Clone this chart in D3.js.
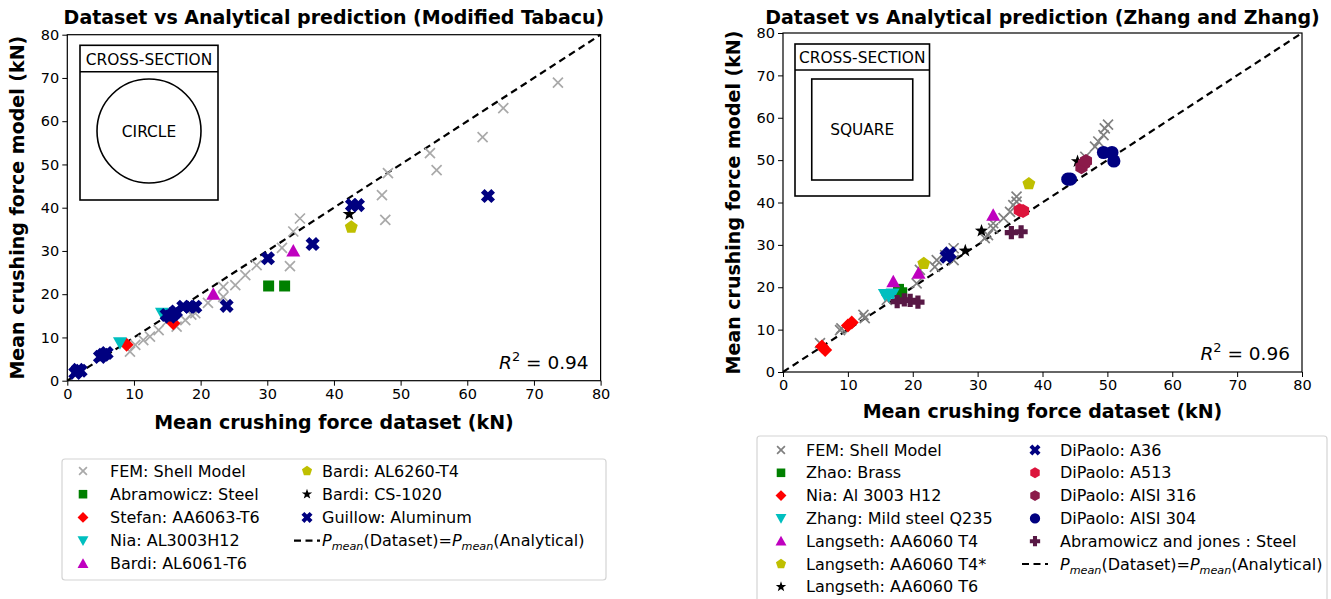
<!DOCTYPE html>
<html>
<head>
<meta charset="utf-8">
<script src="https://cdn.jsdelivr.net/npm/d3@7"></script>
<style>
  body { margin: 0; background: #fff; }
  svg { font-family: "DejaVu Sans", sans-serif; }
</style>
</head>
<body>
<svg id="chart" width="1331" height="599"></svg>
<script>
// ---- data (kN) ----
// Left panel: Modified Tabacu, circular sections
const tabacuFem = [[9.4,6.7],[10.2,8.3],[11.4,9.4],[12.4,10.2],[13.7,11.7],[15.0,13.8],[16.4,12.5],[17.7,14.0],
  [18.6,15.3],[19.2,15.6],[21.1,18.0],[23.4,19.4],[23.4,21.7],[25.2,22.1],[26.7,24.4],[28.4,26.7],[32.2,30.7],
  [33.4,26.5],[33.9,34.5],[34.9,37.5],[47.2,42.9],[47.7,37.2],[48.1,48.0],[54.4,52.6],[55.4,48.7],[62.3,56.3],
  [65.4,63.0],[73.6,68.9]];
const tabacuAbramowicz = [[30.2,21.9],[32.6,21.9]];
const tabacuStefan = [[8.9,8.3],[15.9,13.3]];
const tabacuNia = [[7.9,8.8],[14.2,15.6]];
const tabacuBardiT6 = [[21.9,20.0],[33.9,30.0]];
const tabacuBardiT4 = [[42.6,35.5]];
const tabacuBardiCS = [[42.3,38.5]];
const tabacuGuillow = [[1.2,1.8],[1.6,2.5],[2.0,2.3],[4.9,5.5],[5.4,6.0],[5.9,6.4],[14.9,15.2],[15.4,14.8],
  [15.9,15.4],[16.3,16.0],[17.4,17.1],[18.4,17.1],[19.2,17.1],[23.9,17.3],[30.1,28.3],[36.8,31.6],[42.7,40.6],
  [43.6,40.6],[63.1,42.7]];

// Right panel: Zhang and Zhang, square sections
const zhangFem = [[5.7,6.8],[8.8,9.9],[9.0,10.3],[12.4,13.5],[12.6,12.7],[16.0,17.0],[20.6,20.9],[21.1,24.1],
  [23.4,24.8],[23.7,26.4],[25.0,27.6],[26.3,29.2],[26.3,26.4],[31.1,31.6],[31.6,32.3],[32.4,33.9],[32.4,35.1],
  [34.0,36.3],[35.0,37.8],[35.5,39.4],[36.0,41.4],[36.0,40.2],[46.6,50.8],[48.1,53.2],[48.6,54.4],[49.4,55.9],
  [49.6,57.5],[50.1,58.4]];
const zhangZhao = [[17.8,19.5],[18.3,18.7]];
const zhangNia = [[6.0,6.0],[6.5,5.2],[10.0,11.0],[10.6,11.7]];
const zhangMild = [[15.7,18.3],[16.3,18.0],[16.9,18.4]];
const zhangLangT4 = [[17.0,21.3],[20.9,23.3],[32.4,37.0]];
const zhangLangT4s = [[21.7,25.6],[37.9,44.4]];
const zhangLangT6 = [[28.1,28.6],[30.6,33.3],[45.4,49.7]];
const zhangA36 = [[25.2,27.2],[25.7,28.0]];
const zhangA513 = [[36.5,38.2],[37.0,38.0]];
const zhangAisi316 = [[46.0,48.3],[46.4,49.2],[46.7,49.8]];
const zhangAisi304 = [[43.9,45.5],[44.3,45.5],[49.4,51.8],[50.7,51.8],[51.0,49.8]];
const zhangAbramJones = [[17.6,16.6],[18.7,17.0],[19.6,16.9],[20.8,16.5],[35.2,32.9],[36.7,33.1]];

const axisTicks = [0, 10, 20, 30, 40, 50, 60, 70, 80];

// ---- marker shapes, centred on 0,0 ----
function poly(pts) { return 'M' + pts.map(p => p[0].toFixed(2) + ',' + p[1].toFixed(2)).join('L') + 'Z'; }
function regular(n, r, rot) {
  return poly(d3.range(n).map(i => {
    const a = rot + i * 2 * Math.PI / n;
    return [r * Math.sin(a), -r * Math.cos(a)];
  }));
}
function plusPts(a, t) {
  return [[-t,-a],[t,-a],[t,-t],[a,-t],[a,t],[t,t],[t,a],[-t,a],[-t,t],[-a,t],[-a,-t],[-t,-t]];
}
function markerPath(kind, s) {
  switch (kind) {
    case 'x': return `M${-5*s},${-5*s}L${5*s},${5*s}M${-5*s},${5*s}L${5*s},${-5*s}`;
    case 's': return poly([[-5.5*s,-5.5*s],[5.5*s,-5.5*s],[5.5*s,5.5*s],[-5.5*s,5.5*s]]);
    case 'D': return poly([[0,-7*s],[7*s,0],[0,7*s],[-7*s,0]]);
    case 'v': return poly([[-7*s,-5.5*s],[7*s,-5.5*s],[0,7*s]]);
    case '^': return poly([[-7*s,5.5*s],[7*s,5.5*s],[0,-7*s]]);
    case 'p': return regular(5, 6.8*s, 0);
    case 'h': return regular(6, 7*s, 0);
    case '*': return poly(d3.range(10).map(i => {
      const r = i % 2 ? 2.8*s : 7*s, a = i * Math.PI / 5;
      return [r * Math.sin(a), -r * Math.cos(a)];
    }));
    case 'X': {
      const c = Math.SQRT1_2;
      return poly(plusPts(7.4*s, 2.6*s).map(p => [(p[0]-p[1])*c, (p[0]+p[1])*c]));
    }
    case 'P': return poly(plusPts(6.6*s, 2.6*s));
    case 'o': return `M${6.6*s},0A${6.6*s},${6.6*s},0,1,1,${-6.6*s},0A${6.6*s},${6.6*s},0,1,1,${6.6*s},0Z`;
  }
}

function drawMarker(g, kind, color, s) {
  const p = g.append('path').attr('d', markerPath(kind, s));
  if (kind === 'x') p.attr('fill', 'none').attr('stroke', color).attr('stroke-width', 1.7);
  else p.attr('fill', color);
  return p;
}

const svg = d3.select('#chart');

// P_mean(Dataset)=P_mean(Analytical) label with italic subscripts
function pmeanLabel(t) {
  t.append('tspan').attr('font-style', 'italic').text('P');
  t.append('tspan').attr('font-style', 'italic').attr('font-size', '70%').attr('dy', 4).text('mean');
  t.append('tspan').attr('dy', -4).text('(Dataset)=');
  t.append('tspan').attr('font-style', 'italic').text('P');
  t.append('tspan').attr('font-style', 'italic').attr('font-size', '70%').attr('dy', 4).text('mean');
  t.append('tspan').attr('dy', -4).text('(Analytical)');
}

function drawPanel(cfg) {
  const x = d3.scaleLinear().domain([0, 80]).range([cfg.left, cfg.right]);
  const y = d3.scaleLinear().domain([0, 80]).range([cfg.bottom, cfg.top]);
  const g = svg.append('g');

  g.append('g').attr('transform', `translate(0,${cfg.bottom})`)
    .call(d3.axisBottom(x).tickValues(axisTicks).tickSize(5).tickPadding(3))
    .call(a => a.selectAll('text').attr('font-size', 14.5).attr('fill', '#000').attr('font-family', 'DejaVu Sans'))
    .call(a => a.selectAll('line').attr('stroke', '#000'));
  g.append('g').attr('transform', `translate(${cfg.left},0)`)
    .call(d3.axisLeft(y).tickValues(axisTicks).tickSize(5).tickPadding(3))
    .call(a => a.selectAll('text').attr('font-size', 14.5).attr('fill', '#000').attr('font-family', 'DejaVu Sans'))
    .call(a => a.selectAll('line').attr('stroke', '#000'));
  g.selectAll('.domain').remove();

  g.append('rect')
    .attr('x', cfg.left).attr('y', cfg.top)
    .attr('width', cfg.right - cfg.left).attr('height', cfg.bottom - cfg.top)
    .attr('fill', 'none').attr('stroke', '#000').attr('stroke-width', 1.2);

  // inset showing the cross-section
  const b = cfg.inset;
  const ig = g.append('g').attr('fill', 'none').attr('stroke', '#000').attr('stroke-width', 1.6);
  ig.append('rect').attr('x', b.x0).attr('y', b.y0).attr('width', b.x1 - b.x0).attr('height', b.y1 - b.y0);
  ig.append('line').attr('x1', b.x0).attr('x2', b.x1).attr('y1', b.head).attr('y2', b.head);
  const cx = (b.x0 + b.x1) / 2;
  g.append('text').attr('x', cx).attr('y', b.head - 7).attr('text-anchor', 'middle')
    .attr('font-size', 15.4).text('CROSS-SECTION');
  if (b.shape === 'circle') {
    ig.append('circle').attr('cx', cx).attr('cy', b.cy).attr('r', b.r);
  } else {
    ig.append('rect').attr('x', cx - b.r).attr('y', b.cy - b.r).attr('width', 2 * b.r).attr('height', 2 * b.r);
  }
  g.append('text').attr('x', cx).attr('y', b.cy + 5.5).attr('text-anchor', 'middle')
    .attr('font-size', 15.4).text(b.label);

  // identity line
  g.append('line')
    .attr('x1', x(0)).attr('y1', y(0)).attr('x2', x(80)).attr('y2', y(80))
    .attr('stroke', '#000').attr('stroke-width', 2.2).attr('stroke-dasharray', '7,4.5');

  cfg.series.forEach(sr => {
    sr.data.forEach(d => {
      drawMarker(g, sr.marker, sr.color, 1)
        .attr('transform', `translate(${x(d[0])},${y(d[1])})`);
    });
  });

  // titles and labels
  const mid = (cfg.left + cfg.right) / 2;
  g.append('text').attr('x', mid).attr('y', 24).attr('text-anchor', 'middle')
    .attr('font-size', 19).attr('font-weight', 'bold').text(cfg.title);
  g.append('text').attr('x', mid).attr('y', cfg.bottom + cfg.labelDy).attr('text-anchor', 'middle')
    .attr('font-size', 19).attr('font-weight', 'bold').text('Mean crushing force dataset (kN)');
  g.append('text')
    .attr('transform', `translate(${cfg.left - 43},${(cfg.top + cfg.bottom) / 2}) rotate(-90)`)
    .attr('text-anchor', 'middle').attr('font-size', 19).attr('font-weight', 'bold')
    .text('Mean crushing force model (kN)');

  const r2 = g.append('text').attr('x', cfg.right - 12).attr('y', cfg.bottom - 12)
    .attr('text-anchor', 'end').attr('font-size', 18.5);
  r2.append('tspan').attr('font-style', 'italic').text('R');
  r2.append('tspan').attr('font-size', '70%').attr('dy', -8).text('2');
  r2.append('tspan').attr('dy', 8).text(' = ' + cfg.r2);

  // legend
  const L = cfg.legend;
  g.append('rect').attr('x', L.x0).attr('y', L.y0).attr('width', L.x1 - L.x0).attr('height', L.y1 - L.y0)
    .attr('rx', 3).attr('fill', '#fff').attr('stroke', '#d4d4d4').attr('stroke-width', 1.2);
  const entries = cfg.series.map(sr => ({ label: sr.label, marker: sr.marker, color: sr.color }));
  entries.push({ label: null, marker: 'line' });
  entries.forEach((e, i) => {
    const col = i < L.perCol ? 0 : 1;
    const row = col ? i - L.perCol : i;
    const mx = L.markerX[col], ty = L.rowY + row * L.rowH;
    if (e.marker === 'line') {
      g.append('line').attr('x1', mx - 13).attr('x2', mx + 13).attr('y1', ty).attr('y2', ty)
        .attr('stroke', '#000').attr('stroke-width', 2.2).attr('stroke-dasharray', '7,4.5');
      const t = g.append('text').attr('x', L.textX[col]).attr('y', ty + 5.5).attr('font-size', 16);
      pmeanLabel(t);
    } else {
      drawMarker(g, e.marker, e.color, 0.78).attr('transform', `translate(${mx},${ty})`);
      g.append('text').attr('x', L.textX[col]).attr('y', ty + 5.5).attr('font-size', 16).text(e.label);
    }
  });
}

drawPanel({
  left: 67.3, right: 600.6, top: 34.7, bottom: 380.7, labelDy: 48,
  title: 'Dataset vs Analytical prediction (Modified Tabacu)',
  r2: '0.94',
  inset: { x0: 80, x1: 218, y0: 45.3, y1: 200, head: 71.7, shape: 'circle', cy: 131, r: 52, label: 'CIRCLE' },
  series: [
    { label: 'FEM: Shell Model', marker: 'x', color: '#a9a9a9', data: tabacuFem },
    { label: 'Abramowicz: Steel', marker: 's', color: '#008000', data: tabacuAbramowicz },
    { label: 'Stefan: AA6063-T6', marker: 'D', color: '#ff0000', data: tabacuStefan },
    { label: 'Nia: AL3003H12', marker: 'v', color: '#00bfbf', data: tabacuNia },
    { label: 'Bardi: AL6061-T6', marker: '^', color: '#bf00bf', data: tabacuBardiT6 },
    { label: 'Bardi: AL6260-T4', marker: 'p', color: '#bfbf00', data: tabacuBardiT4 },
    { label: 'Bardi: CS-1020', marker: '*', color: '#000000', data: tabacuBardiCS },
    { label: 'Guillow: Aluminum', marker: 'X', color: '#000080', data: tabacuGuillow }
  ],
  legend: { x0: 62, x1: 606, y0: 459, y1: 580, perCol: 5, rowY: 471, rowH: 23.2,
    markerX: [83, 307], textX: [110, 322] }
});

drawPanel({
  left: 783, right: 1302, top: 33, bottom: 372, labelDy: 46,
  title: 'Dataset vs Analytical prediction (Zhang and Zhang)',
  r2: '0.96',
  inset: { x0: 795, x1: 929.5, y0: 44, y1: 196, head: 70, shape: 'square', cy: 129.5, r: 50.5, label: 'SQUARE' },
  series: [
    { label: 'FEM: Shell Model', marker: 'x', color: '#808080', data: zhangFem },
    { label: 'Zhao: Brass', marker: 's', color: '#008000', data: zhangZhao },
    { label: 'Nia: Al 3003 H12', marker: 'D', color: '#ff0000', data: zhangNia },
    { label: 'Zhang: Mild steel Q235', marker: 'v', color: '#00bfbf', data: zhangMild },
    { label: 'Langseth: AA6060 T4', marker: '^', color: '#bf00bf', data: zhangLangT4 },
    { label: 'Langseth: AA6060 T4*', marker: 'p', color: '#bfbf00', data: zhangLangT4s },
    { label: 'Langseth: AA6060 T6', marker: '*', color: '#000000', data: zhangLangT6 },
    { label: 'DiPaolo: A36', marker: 'X', color: '#000080', data: zhangA36 },
    { label: 'DiPaolo: A513', marker: 'h', color: '#dc143c', data: zhangA513 },
    { label: 'DiPaolo: AISI 316', marker: 'h', color: '#8b1a4a', data: zhangAisi316 },
    { label: 'DiPaolo: AISI 304', marker: 'o', color: '#000080', data: zhangAisi304 },
    { label: 'Abramowicz and jones : Steel', marker: 'P', color: '#581845', data: zhangAbramJones }
  ],
  legend: { x0: 757, x1: 1327, y0: 436, y1: 610, perCol: 7, rowY: 450, rowH: 22.8,
    markerX: [781, 1035], textX: [806, 1060] }
});
</script>
</body>
</html>
